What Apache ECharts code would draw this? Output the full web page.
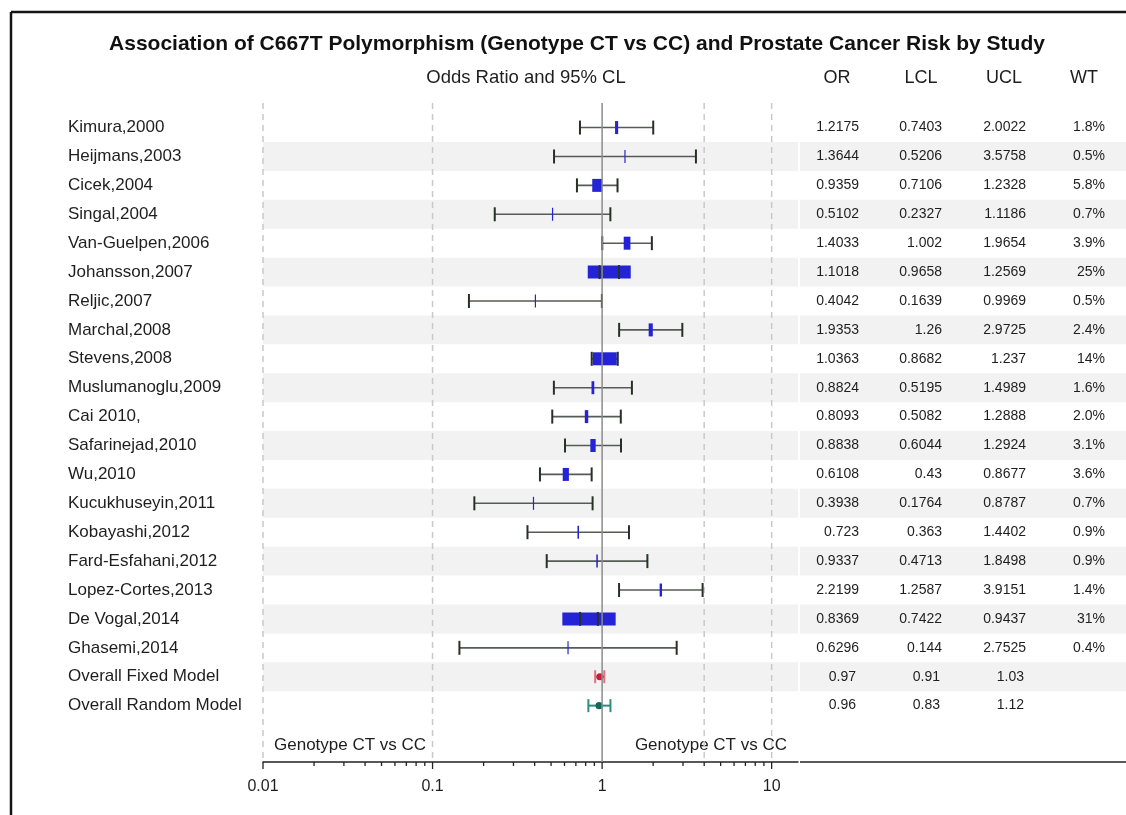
<!DOCTYPE html>
<html>
<head>
<meta charset="utf-8">
<script src="https://cdn.jsdelivr.net/npm/echarts@6/dist/echarts.min.js"></script>
<style>
  html, body { margin: 0; padding: 0; background: #ffffff; }
  #chart { width: 1126px; height: 815px; }
</style>
</head>
<body>
<div id="chart"></div>
<script>
// Per-study genotype CT vs CC odds ratios with 95% confidence limits and weights
const studies = [
  'Kimura,2000', 'Heijmans,2003', 'Cicek,2004', 'Singal,2004', 'Van-Guelpen,2006',
  'Johansson,2007', 'Reljic,2007', 'Marchal,2008', 'Stevens,2008', 'Muslumanoglu,2009',
  'Cai 2010,', 'Safarinejad,2010', 'Wu,2010', 'Kucukhuseyin,2011', 'Kobayashi,2012',
  'Fard-Esfahani,2012', 'Lopez-Cortes,2013', 'De Vogal,2014', 'Ghasemi,2014'
];
const oddsRatio = [1.2175, 1.3644, 0.9359, 0.5102, 1.4033, 1.1018, 0.4042, 1.9353, 1.0363, 0.8824,
  0.8093, 0.8838, 0.6108, 0.3938, 0.723, 0.9337, 2.2199, 0.8369, 0.6296];
const lowerCL = [0.7403, 0.5206, 0.7106, 0.2327, 1.002, 0.9658, 0.1639, 1.26, 0.8682, 0.5195,
  0.5082, 0.6044, 0.43, 0.1764, 0.363, 0.4713, 1.2587, 0.7422, 0.144];
const upperCL = [2.0022, 3.5758, 1.2328, 1.1186, 1.9654, 1.2569, 0.9969, 2.9725, 1.237, 1.4989,
  1.2888, 1.2924, 0.8677, 0.8787, 1.4402, 1.8498, 3.9151, 0.9437, 2.7525];
const weights = [1.8, 0.5, 5.8, 0.7, 3.9, 25, 0.5, 2.4, 14, 1.6, 2.0, 3.1, 3.6, 0.7, 0.9, 0.9, 1.4, 31, 0.4];

// Pooled estimates
const pooledNames = ['Overall Fixed Model', 'Overall Random Model'];
const pooledOR = [0.97, 0.96];
const pooledLCL = [0.91, 0.83];
const pooledUCL = [1.03, 1.12];
const pooledColors = [
  { cap: '#e0707e', dot: '#c4203c' },
  { cap: '#2a8f80', dot: '#0f6a5c' }
];

// Axis tick values (log scale) and vertical guide lines
const majorTicks = [0.01, 0.1, 1, 10];
const minorTicks = [0.02, 0.03, 0.04, 0.05, 0.06, 0.07, 0.08, 0.09,
  0.2, 0.3, 0.4, 0.5, 0.6, 0.7, 0.8, 0.9,
  2, 3, 4, 5, 6, 7, 8, 9];
const guideLines = [0.01, 0.1, 4, 10];
const nullLine = [1];
const tableHeaders = ['OR', 'LCL', 'UCL', 'WT'];

const FONT = "'Liberation Sans', Arial, Helvetica, sans-serif";
const TEXT = '#1e1e1e';
const Y_MIN = -0.85, Y_MAX = 21.95;
const TABLE_LEFT = 800, TABLE_RIGHT = 1126;
const COL_RIGHT = [859, 942, 1026, 1105];
const LABEL_X = 68;
const VALUE_SIZE = 14;

const rowCount = studies.length + pooledNames.length;
const bandRows = [];
for (let i = 1; i < rowCount; i += 2) bandRows.push(i);

const studyData = studies.map((s, i) => [i, oddsRatio[i], lowerCL[i], upperCL[i], weights[i]]);
const pooledData = pooledNames.map((s, i) => [studies.length + i, pooledOR[i], pooledLCL[i], pooledUCL[i]]);

function fmtWeight(w) {
  return (w >= 10 ? w.toFixed(0) : w.toFixed(1)) + '%';
}

function textEl(x, y, text, align, size, extra) {
  return {
    type: 'text', x: x, y: y, silent: true,
    style: Object.assign({
      text: text, fill: TEXT, fontSize: size, fontFamily: FONT,
      align: align, verticalAlign: 'middle'
    }, extra || {})
  };
}

function errorBar(x0, x1, y, capH, lineColor, capColor, lineW, capW) {
  return [
    { type: 'line', shape: { x1: x0, y1: y, x2: x1, y2: y }, style: { stroke: lineColor, lineWidth: lineW } },
    { type: 'line', shape: { x1: x0, y1: y - capH / 2, x2: x0, y2: y + capH / 2 }, style: { stroke: capColor, lineWidth: capW } },
    { type: 'line', shape: { x1: x1, y1: y - capH / 2, x2: x1, y2: y + capH / 2 }, style: { stroke: capColor, lineWidth: capW } }
  ];
}

const chart = echarts.init(document.getElementById('chart'), null, { renderer: 'canvas' });

const option = {
  animation: false,
  backgroundColor: '#ffffff',
  grid: { left: 263, right: 1126 - 798, top: 103, bottom: 815 - 762 },
  xAxis: {
    type: 'log',
    logBase: 10,
    min: 0.01,
    max: 14.3,
    axisLine: { show: true, onZero: false, lineStyle: { color: '#222', width: 1.5 } },
    axisTick: { show: false },
    splitLine: { show: false },
    minorSplitLine: { show: false },
    axisLabel: {
      color: TEXT, fontSize: 16, fontFamily: FONT, margin: 17,
      showMaxLabel: false,
      formatter: v => (v > 11 ? '' : String(+Number(v).toPrecision(6)))
    }
  },
  yAxis: { type: 'value', inverse: true, min: Y_MIN, max: Y_MAX, show: false },
  graphic: [
    { type: 'line', shape: { x1: 11, y1: 12, x2: 1126, y2: 12 }, style: { stroke: '#151515', lineWidth: 2.5 }, z: 10 },
    { type: 'line', shape: { x1: 11, y1: 12, x2: 11, y2: 815 }, style: { stroke: '#151515', lineWidth: 2.5 }, z: 10 },
    { type: 'line', shape: { x1: TABLE_LEFT, y1: 762, x2: TABLE_RIGHT, y2: 762 }, style: { stroke: '#222', lineWidth: 1.5 } },
    textEl(577, 44, 'Association of C667T Polymorphism (Genotype CT vs CC) and Prostate Cancer Risk by Study', 'center', 21, { fontWeight: 'bold', fill: '#111' }),
    textEl(526, 78, 'Odds Ratio and 95% CL', 'center', 18.5),
    textEl(837, 78, tableHeaders[0], 'center', 18),
    textEl(921, 78, tableHeaders[1], 'center', 18),
    textEl(1004, 78, tableHeaders[2], 'center', 18),
    textEl(1084, 78, tableHeaders[3], 'center', 18),
    textEl(274, 745, 'Genotype CT vs CC', 'left', 17),
    textEl(787, 745, 'Genotype CT vs CC', 'right', 17)
  ],
  series: [
    {
      // alternating row shading across plot and table
      type: 'custom', name: 'bands', z: 0, silent: true, clip: false,
      data: bandRows.map(r => [1, r]),
      encode: { x: 0, y: 1 },
      renderItem: function (params, api) {
        const cs = params.coordSys;
        const y = api.coord([1, api.value(1)])[1];
        const h = api.size([0, 1])[1];
        return {
          type: 'group',
          children: [
            { type: 'rect', shape: { x: cs.x, y: y - h / 2, width: cs.width, height: h }, style: { fill: '#f2f2f2' } },
            { type: 'rect', shape: { x: TABLE_LEFT, y: y - h / 2, width: TABLE_RIGHT - TABLE_LEFT, height: h }, style: { fill: '#f2f2f2' } }
          ]
        };
      }
    },
    {
      // dashed vertical guides
      type: 'custom', name: 'guides', z: 1, silent: true,
      data: guideLines.map(v => [v]),
      encode: { x: 0 },
      renderItem: function (params, api) {
        const cs = params.coordSys;
        const x = api.coord([api.value(0), 0])[0];
        return {
          type: 'line',
          shape: { x1: x, y1: cs.y, x2: x, y2: cs.y + cs.height },
          style: { stroke: '#c9c9c9', lineWidth: 1.5, lineDash: [6, 5] }
        };
      }
    },
    {
      // axis tick marks: decades and 2..9 subdivisions
      type: 'custom', name: 'ticks', z: 3, silent: true, clip: false,
      data: majorTicks.map(v => [v, 7]).concat(minorTicks.map(v => [v, 4])),
      encode: { x: 0 },
      renderItem: function (params, api) {
        const p = api.coord([api.value(0), Y_MAX]);
        return {
          type: 'line',
          shape: { x1: p[0], y1: p[1], x2: p[0], y2: p[1] + api.value(1) },
          style: { stroke: '#222', lineWidth: 1.3 }
        };
      }
    },
    {
      // study rows: label, CI whiskers, weighted box, table values
      type: 'custom', name: 'studies', z: 2, clip: false,
      data: studyData,
      encode: { x: [1, 2, 3], y: 0 },
      renderItem: function (params, api) {
        const i = params.dataIndex;
        const row = api.value(0);
        const c = api.coord([api.value(1), row]);
        const lo = api.coord([api.value(2), row]);
        const hi = api.coord([api.value(3), row]);
        const y = c[1];
        const boxW = Math.max(api.value(4) * 1.72, 1.2);
        const bar = errorBar(lo[0], hi[0], y, 14, '#555b55', '#263126', 1.6, 2);
        return {
          type: 'group',
          children: [
            bar[0],
            { type: 'rect', shape: { x: c[0] - boxW / 2, y: y - 6.5, width: boxW, height: 13 }, style: { fill: '#2424d6' } },
            bar[1], bar[2],
            textEl(LABEL_X, y, studies[i], 'left', 17),
            textEl(COL_RIGHT[0], y, String(oddsRatio[i]), 'right', VALUE_SIZE),
            textEl(COL_RIGHT[1], y, String(lowerCL[i]), 'right', VALUE_SIZE),
            textEl(COL_RIGHT[2], y, String(upperCL[i]), 'right', VALUE_SIZE),
            textEl(COL_RIGHT[3], y, fmtWeight(weights[i]), 'right', VALUE_SIZE)
          ]
        };
      }
    },
    {
      // pooled fixed / random estimates
      type: 'custom', name: 'pooled', z: 2, clip: false,
      data: pooledData,
      encode: { x: [1, 2, 3], y: 0 },
      renderItem: function (params, api) {
        const i = params.dataIndex;
        const row = api.value(0);
        const c = api.coord([api.value(1), row]);
        const lo = api.coord([api.value(2), row]);
        const hi = api.coord([api.value(3), row]);
        const y = c[1];
        const col = pooledColors[i];
        const bar = errorBar(lo[0], hi[0], y, 13, col.cap, col.cap, 2, 2);
        return {
          type: 'group',
          children: bar.concat([
            { type: 'circle', shape: { cx: c[0], cy: y, r: 3.6 }, style: { fill: col.dot } },
            textEl(LABEL_X, y, pooledNames[i], 'left', 17),
            textEl(COL_RIGHT[0] - 3, y, String(pooledOR[i]), 'right', VALUE_SIZE),
            textEl(COL_RIGHT[1] - 2, y, String(pooledLCL[i]), 'right', VALUE_SIZE),
            textEl(COL_RIGHT[2] - 2, y, String(pooledUCL[i]), 'right', VALUE_SIZE)
          ])
        };
      }
    },
    {
      // null-effect reference line at OR = 1
      type: 'custom', name: 'null', z: 4, silent: true,
      data: nullLine.map(v => [v]),
      encode: { x: 0 },
      renderItem: function (params, api) {
        const cs = params.coordSys;
        const x = api.coord([api.value(0), 0])[0];
        return {
          type: 'line',
          shape: { x1: x, y1: cs.y, x2: x, y2: cs.y + cs.height },
          style: { stroke: '#8c8c8c', lineWidth: 1.5 }
        };
      }
    }
  ]
};

chart.setOption(option);
</script>
</body>
</html>
